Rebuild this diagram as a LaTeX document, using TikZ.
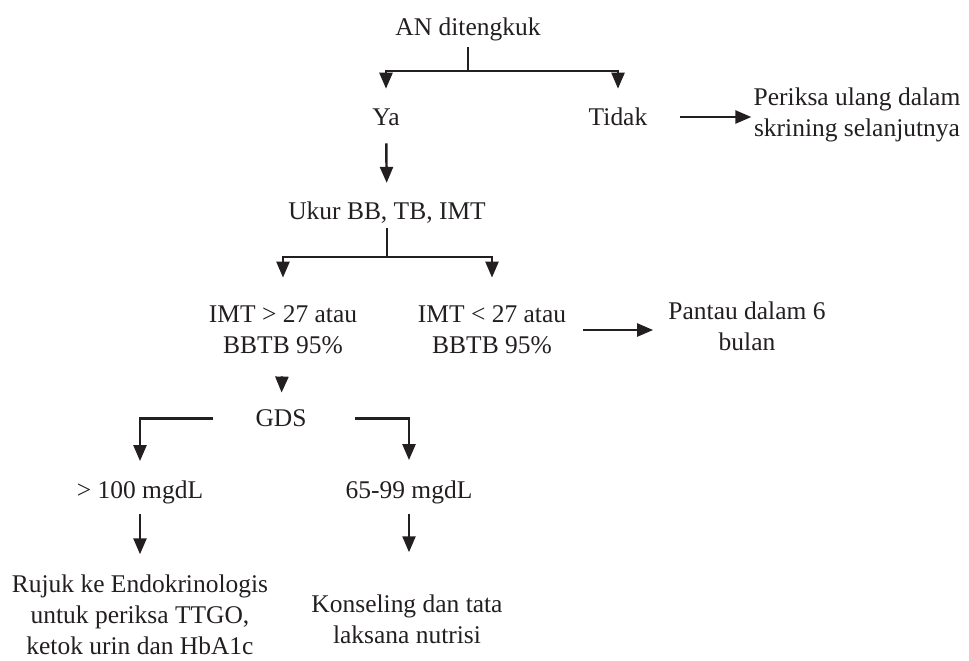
\documentclass[tikz,border=0pt]{standalone}
\usepackage{fontspec}
\setmainfont{Liberation Serif}
\usetikzlibrary{arrows.meta}
\definecolor{ink}{HTML}{231F20}
\tikzstyle{txt} = [align=center, inner sep=0pt, text=ink, font=\fontsize{14.5pt}{17.6pt}\selectfont]
\tikzstyle{arrow} = [draw=ink, line width=1.4pt, -{Triangle[length=0.32cm,width=0.26cm]}]

\begin{document}
\begin{tikzpicture}[x=0.02cm, y=-0.02cm]
\useasboundingbox (0,0) rectangle (969,660);

% Nodes
\node (an) [txt] at (468,29.5) {AN ditengkuk};
\node (ya) [txt] at (386,117.5) {Ya};
\node (tidak) [txt] at (618,117) {Tidak};
\node (periksa) [txt] at (857,115) {Periksa ulang dalam\\skrining selanjutnya};
\node (ukur) [txt] at (387,213) {Ukur BB, TB, IMT};
\node (imtA) [txt] at (283,330) {IMT > 27 atau\\BBTB 95\%};
\node (imtB) [txt] at (492,330) {IMT < 27 atau\\BBTB 95\%};
\node (pantau) [txt] at (747,326) {Pantau dalam 6\\bulan};
\node (gds) [txt] at (281,418.5) {GDS};
\node (hi) [txt] at (140,492) {> 100 mgdL};
\node (mid) [txt] at (409,492) {65-99 mgdL};
\node (rujuk) [txt] at (140,615) {Rujuk ke Endokrinologis\\untuk periksa TTGO,\\ketok urin dan HbA1c};
\node (kons) [txt] at (407,619) {Konseling dan tata\\laksana nutrisi};

% Junctions
\coordinate (j1) at (468,71);
\coordinate (j2) at (387,257);

% Arrows
\draw [arrow, shorten <=0.12cm, shorten >=0.4cm] (an) -- (j1) -| (ya);
\draw [arrow, shorten >=0.38cm] (j1) -| (tidak);
\draw [arrow, shorten <=0.64cm, shorten >=0.04cm] (tidak) -- (tidak -| periksa.west);
\draw [arrow, shorten <=0.34cm, shorten >=0.38cm] (ya) -- (ukur);
\draw [arrow, shorten <=0.08cm, shorten >=0.56cm] (ukur) -- (j2) -| (imtA);
\draw [arrow, shorten >=0.56cm] (j2) -| (imtB);
\draw [arrow, shorten <=0.34cm, shorten >=0.3cm] (imtB) -- (imtB -| pantau.west);
\draw [arrow, shorten <=0.44cm, shorten >=0.34cm] (imtA) -- (gds);
\draw [arrow, shorten <=0.84cm, shorten >=0.38cm] (gds) -| (hi);
\draw [arrow, shorten <=0.96cm, shorten >=0.4cm] (gds) -| (mid);
\draw [arrow, shorten <=0.2cm, shorten >=0.41cm] (hi) -- (rujuk);
\draw [arrow, shorten <=0.2cm, shorten >=0.84cm] (mid) -- (mid |- kons.north);

\end{tikzpicture}
\end{document}
